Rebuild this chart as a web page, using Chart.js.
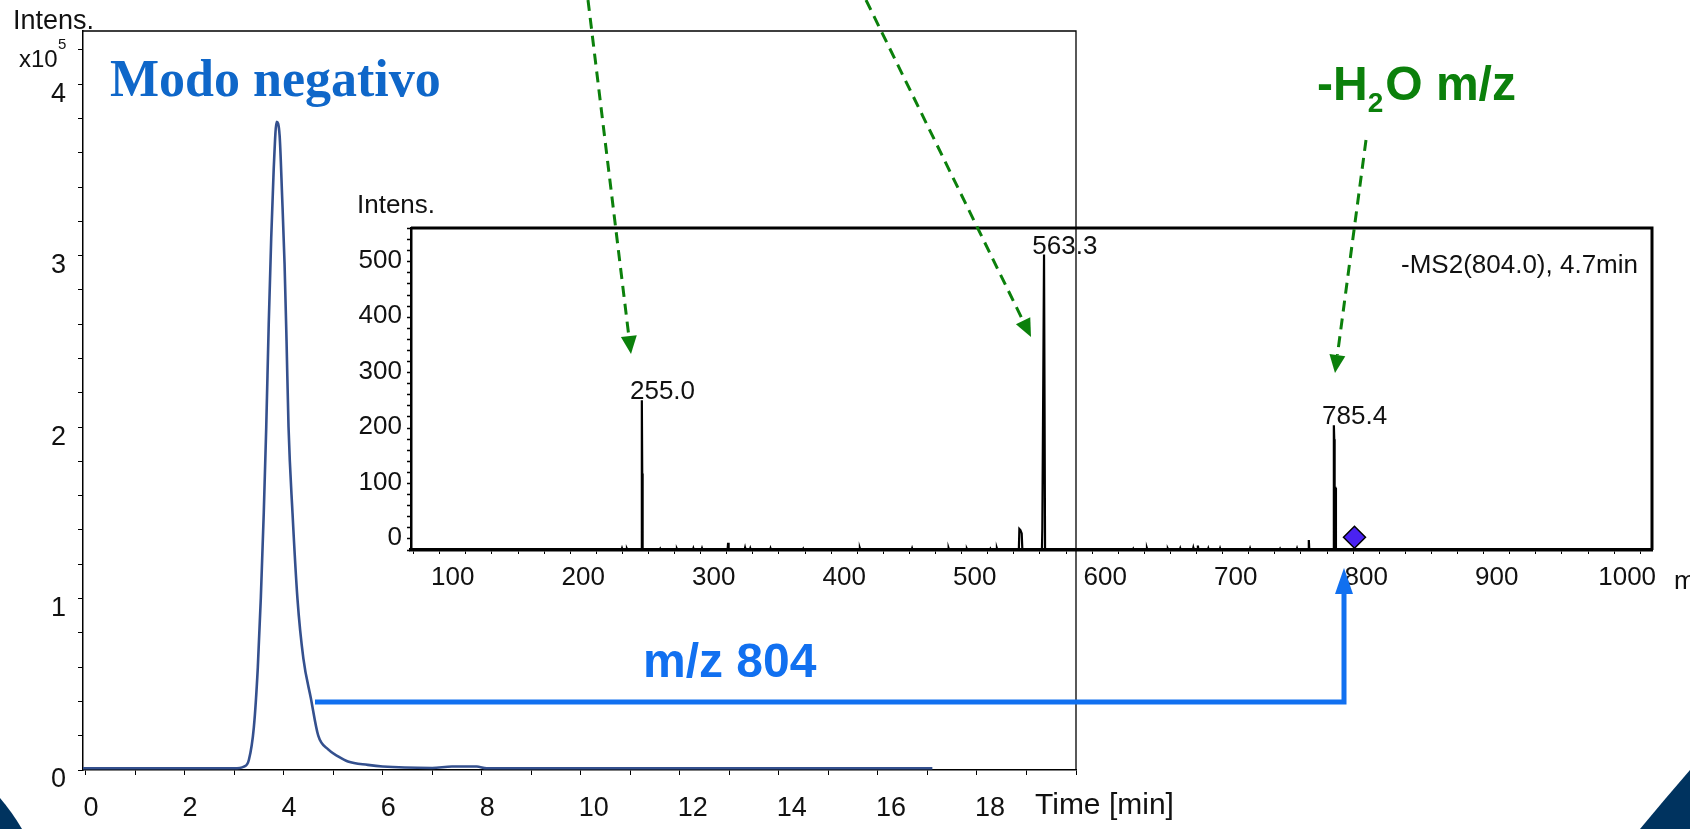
<!DOCTYPE html>
<html>
<head>
<meta charset="utf-8">
<script src="https://cdn.jsdelivr.net/npm/chart.js@4.4.0/dist/chart.umd.min.js"></script>
<style>
  html, body { margin: 0; padding: 0; background: #fff; }
  #wrap { position: relative; width: 1690px; height: 829px; overflow: hidden; }
  canvas { position: absolute; left: 0; top: 0; }
</style>
</head>
<body>
<div id="wrap">
  <canvas id="tic" width="1690" height="829"></canvas>
  <canvas id="ms2" width="1690" height="829"></canvas>
</div>
<script>
// Chromatogram, negative mode (intensity x10^5)
const timeMin   = [-0.05, 1.0, 2.0, 3.0, 3.2, 3.3, 3.4, 3.48, 3.54, 3.6, 3.65, 3.7, 3.75, 3.8, 3.86, 3.92, 3.97, 4.02, 4.06, 4.1, 4.18, 4.28, 4.4, 4.55, 4.7, 4.9, 5.1, 5.3, 5.7, 6.0, 7.0, 7.4, 7.9, 8.1, 10, 12, 14, 16, 17.1];
const ticIntens = [0.01, 0.01, 0.01, 0.01, 0.02, 0.06, 0.25, 0.6, 1.0, 1.5, 2.0, 2.6, 3.1, 3.5, 3.78, 3.7, 3.35, 2.95, 2.5, 2.0, 1.5, 1.0, 0.65, 0.42, 0.2, 0.12, 0.08, 0.05, 0.03, 0.02, 0.012, 0.02, 0.02, 0.01, 0.01, 0.01, 0.01, 0.01, 0.01];

// MS2 spectrum of m/z 804 at 4.7 min: main peak profiles
const peakProfileMz  = [78, 254.5, 254.8, 255.0, 255.2, 255.5, 543.8, 544.2, 545.0, 546.0, 546.5, 561.5, 561.8, 562.5, 563.1, 563.6, 563.9, 784.9, 785.2, 785.5, 785.8, 786.4, 786.8, 1029];
const peakProfileInt = [0, 0, 138, 270, 138, 0, 0, 38, 36, 30, 0, 0, 40, 300, 533, 533, 0, 0, 225, 200, 112, 112, 0, 0];
// small noise sticks
const noiseMz  = [239.7, 243.5, 269, 281.8, 294.4, 301, 321, 334, 338, 353.5, 378.6, 422, 462, 490, 504, 522, 527, 631.5, 642, 658, 667.5, 677.5, 681, 689, 698, 721, 744, 757, 766];
const noiseInt = [3, 2, 2, 2, 3, 3, 13, 4, 3, 3, 2, 3, 3, 3, 2, 2, 3, 2, 3, 2, 3, 4, 8, 3, 3, 3, 2, 3, 18];

const peakLabels = ['255.0', '563.3', '785.4'];
const peakMz     = [255.0, 563.3, 785.4];
const peakTop    = [270, 533, 225];

const precursorMz    = [801.0];
const precursorLevel = [23];

const ticTickLabels = [0, 2, 4, 6, 8, 10, 12, 14, 16, 18];

Chart.defaults.font.family = 'Liberation Sans';
Chart.defaults.color = '#111';

const green = '#0b800b';
const blue = '#1170f0';

// points of the spectrum line, sorted by m/z
const spectrum = peakProfileMz.map((m, i) => ({ x: m, y: peakProfileInt[i] }));
noiseMz.forEach((m, i) => {
  spectrum.push({ x: m - 0.4, y: 0 }, { x: m, y: noiseInt[i] }, { x: m + 0.4, y: 0 });
});
spectrum.sort((a, b) => a.x - b.x);

function text(ctx, str, x, y, font, color, align) {
  ctx.font = font;
  ctx.fillStyle = color;
  ctx.textAlign = align || 'left';
  ctx.textBaseline = 'alphabetic';
  ctx.fillText(str, x, y);
}

// frame and titles of the chromatogram
const ticDecor = {
  id: 'ticDecor',
  afterDraw(chart) {
    const ctx = chart.ctx, a = chart.chartArea;
    ctx.save();
    ctx.strokeStyle = '#000';
    ctx.lineWidth = 1.3;
    ctx.beginPath();
    ctx.moveTo(a.left, a.top); ctx.lineTo(a.right, a.top); ctx.lineTo(a.right, a.bottom);
    ctx.stroke();
    text(ctx, 'Intens.', 13, 29, '27px "Liberation Sans"', '#111');
    text(ctx, 'x10', 19, 67, '24px "Liberation Sans"', '#111');
    text(ctx, '5', 58, 49, '15px "Liberation Sans"', '#111');
    text(ctx, 'Modo negativo', 110, 96, 'bold 52px "Liberation Serif"', '#0f67c9');
    text(ctx, 'Time [min]', 1035, 814, '30px "Liberation Sans"', '#111');
    ctx.restore();
  }
};

function dashedArrow(ctx, x1, y1, x2, y2) {
  const ang = Math.atan2(y2 - y1, x2 - x1);
  const headLen = 18, headW = 8;
  const bx = x2 - headLen * Math.cos(ang), by = y2 - headLen * Math.sin(ang);
  ctx.save();
  ctx.strokeStyle = green;
  ctx.lineWidth = 3;
  ctx.setLineDash([11, 7]);
  ctx.beginPath(); ctx.moveTo(x1, y1); ctx.lineTo(bx, by); ctx.stroke();
  ctx.setLineDash([]);
  ctx.fillStyle = green;
  ctx.beginPath();
  ctx.moveTo(x2, y2);
  ctx.lineTo(bx + headW * Math.sin(ang), by - headW * Math.cos(ang));
  ctx.lineTo(bx - headW * Math.sin(ang), by + headW * Math.cos(ang));
  ctx.closePath(); ctx.fill();
  ctx.restore();
}

// inset frame, peak labels and slide annotations
const ms2Decor = {
  id: 'ms2Decor',
  afterDraw(chart) {
    const ctx = chart.ctx, a = chart.chartArea;
    const xs = chart.scales.x, ys = chart.scales.y;
    ctx.save();
    ctx.strokeStyle = '#000';
    ctx.lineWidth = 3;
    ctx.beginPath();
    ctx.moveTo(a.left, a.top); ctx.lineTo(a.right, a.top); ctx.lineTo(a.right, a.bottom);
    ctx.stroke();

    text(ctx, 'Intens.', 357, 213, '26px "Liberation Sans"', '#111');
    text(ctx, '-MS2(804.0), 4.7min', 1638, 273, '26px "Liberation Sans"', '#111', 'right');
    text(ctx, 'm/z', 1674, 589, '26px "Liberation Sans"', '#111');
    peakLabels.forEach((lbl, i) => {
      text(ctx, lbl, xs.getPixelForValue(peakMz[i]) - 12, ys.getPixelForValue(peakTop[i]) - 1, '26px "Liberation Sans"', '#111');
    });

    // green arrows
    dashedArrow(ctx, 588, 0, 631, 354);
    dashedArrow(ctx, 866, 0, 1031, 337);
    dashedArrow(ctx, 1366, 140, 1335, 373);

    // -H2O m/z
    ctx.font = 'bold 48px "Liberation Sans"';
    let x = 1317;
    text(ctx, '-H', x, 100, 'bold 48px "Liberation Sans"', green);
    x += ctx.measureText('-H').width;
    text(ctx, '2', x, 112, 'bold 28px "Liberation Sans"', green);
    x += ctx.measureText('2').width + 2;
    text(ctx, 'O m/z', x, 100, 'bold 48px "Liberation Sans"', green);

    // blue arrow m/z 804
    ctx.strokeStyle = blue;
    ctx.lineWidth = 5;
    ctx.beginPath();
    ctx.moveTo(315, 702); ctx.lineTo(1344, 702); ctx.lineTo(1344, 590);
    ctx.stroke();
    ctx.fillStyle = blue;
    ctx.beginPath();
    ctx.moveTo(1344, 568); ctx.lineTo(1353, 594); ctx.lineTo(1335, 594);
    ctx.closePath(); ctx.fill();
    text(ctx, 'm/z 804', 643, 677, 'bold 48px "Liberation Sans"', blue);

    // slide corner decoration
    ctx.fillStyle = '#00335f';
    ctx.beginPath();
    ctx.moveTo(1690, 770); ctx.quadraticCurveTo(1664, 800, 1640, 829); ctx.lineTo(1690, 829);
    ctx.closePath(); ctx.fill();
    ctx.beginPath();
    ctx.moveTo(0, 798); ctx.quadraticCurveTo(12, 812, 22, 829); ctx.lineTo(0, 829);
    ctx.closePath(); ctx.fill();
    ctx.restore();
  }
};

new Chart(document.getElementById('tic'), {
  type: 'line',
  data: {
    datasets: [{
      data: timeMin.map((t, i) => ({ x: t, y: ticIntens[i] })),
      borderColor: '#34508e',
      borderWidth: 2.6,
      pointRadius: 0,
      cubicInterpolationMode: 'monotone',
      fill: false
    }]
  },
  options: {
    responsive: false,
    animation: false,
    devicePixelRatio: 1,
    layout: { padding: { left: 23, top: 31, right: 614, bottom: 9 } },
    plugins: { legend: { display: false }, tooltip: { enabled: false } },
    scales: {
      x: {
        type: 'linear', min: -0.05, max: 20,
        afterFit(s) { s.height = 50; },
        border: { color: '#000', width: 1.5 },
        grid: { drawOnChartArea: false, tickLength: 5, color: '#000' },
        ticks: {
          stepSize: 1, autoSkip: false, maxRotation: 0, includeBounds: false,
          align: 'start', padding: 17, labelOffset: -2, font: { size: 27 },
          callback: v => ticTickLabels.includes(Math.round(v * 100) / 100) ? String(Math.round(v)) : ''
        }
      },
      y: {
        min: 0, max: 4.31,
        afterFit(s) { s.width = 60; },
        border: { color: '#000', width: 1.5 },
        grid: { drawOnChartArea: false, tickLength: 5, color: '#000' },
        ticks: {
          stepSize: 0.2, autoSkip: false, includeBounds: false,
          padding: 12, labelOffset: 10, font: { size: 27 },
          callback: v => Math.abs(v - Math.round(v)) < 1e-6 ? String(Math.round(v)) : ''
        }
      }
    }
  },
  plugins: [ticDecor]
});

new Chart(document.getElementById('ms2'), {
  type: 'line',
  data: {
    datasets: [{
      data: spectrum,
      borderColor: '#000',
      borderWidth: 2.2,
      pointRadius: 0,
      tension: 0,
      fill: false,
      order: 2
    }, {
      type: 'scatter',
      data: precursorMz.map((m, i) => ({ x: m, y: precursorLevel[i] })),
      pointStyle: 'rectRot',
      pointRadius: 11,
      backgroundColor: '#4a22f2',
      borderColor: '#000',
      borderWidth: 1.5,
      order: 1
    }]
  },
  options: {
    responsive: false,
    animation: false,
    devicePixelRatio: 1,
    layout: { padding: { left: 351, top: 228, right: 38, bottom: 239 } },
    plugins: { legend: { display: false }, tooltip: { enabled: false } },
    scales: {
      x: {
        type: 'linear', min: 78, max: 1029,
        afterFit(s) { s.height = 40; },
        border: { color: '#000', width: 3.5 },
        grid: { drawOnChartArea: false, tickLength: 4, color: '#000' },
        ticks: {
          stepSize: 20, autoSkip: false, maxRotation: 0, includeBounds: false,
          padding: 8, labelOffset: 13, font: { size: 26 },
          callback: v => Math.round(v) % 100 === 0 ? String(Math.round(v)) : ''
        }
      },
      y: {
        min: 0, max: 581,
        afterFit(s) { s.width = 60; },
        border: { color: '#000', width: 2.5 },
        grid: { drawOnChartArea: false, tickLength: 4, color: '#000', tickWidth: 1.5 },
        ticks: {
          stepSize: 20, autoSkip: false, includeBounds: false,
          padding: 5, labelOffset: -12, font: { size: 26 },
          callback: v => Math.round(v) % 100 === 0 ? String(Math.round(v)) : ''
        }
      }
    }
  },
  plugins: [ms2Decor]
});
</script>
</body>
</html>
